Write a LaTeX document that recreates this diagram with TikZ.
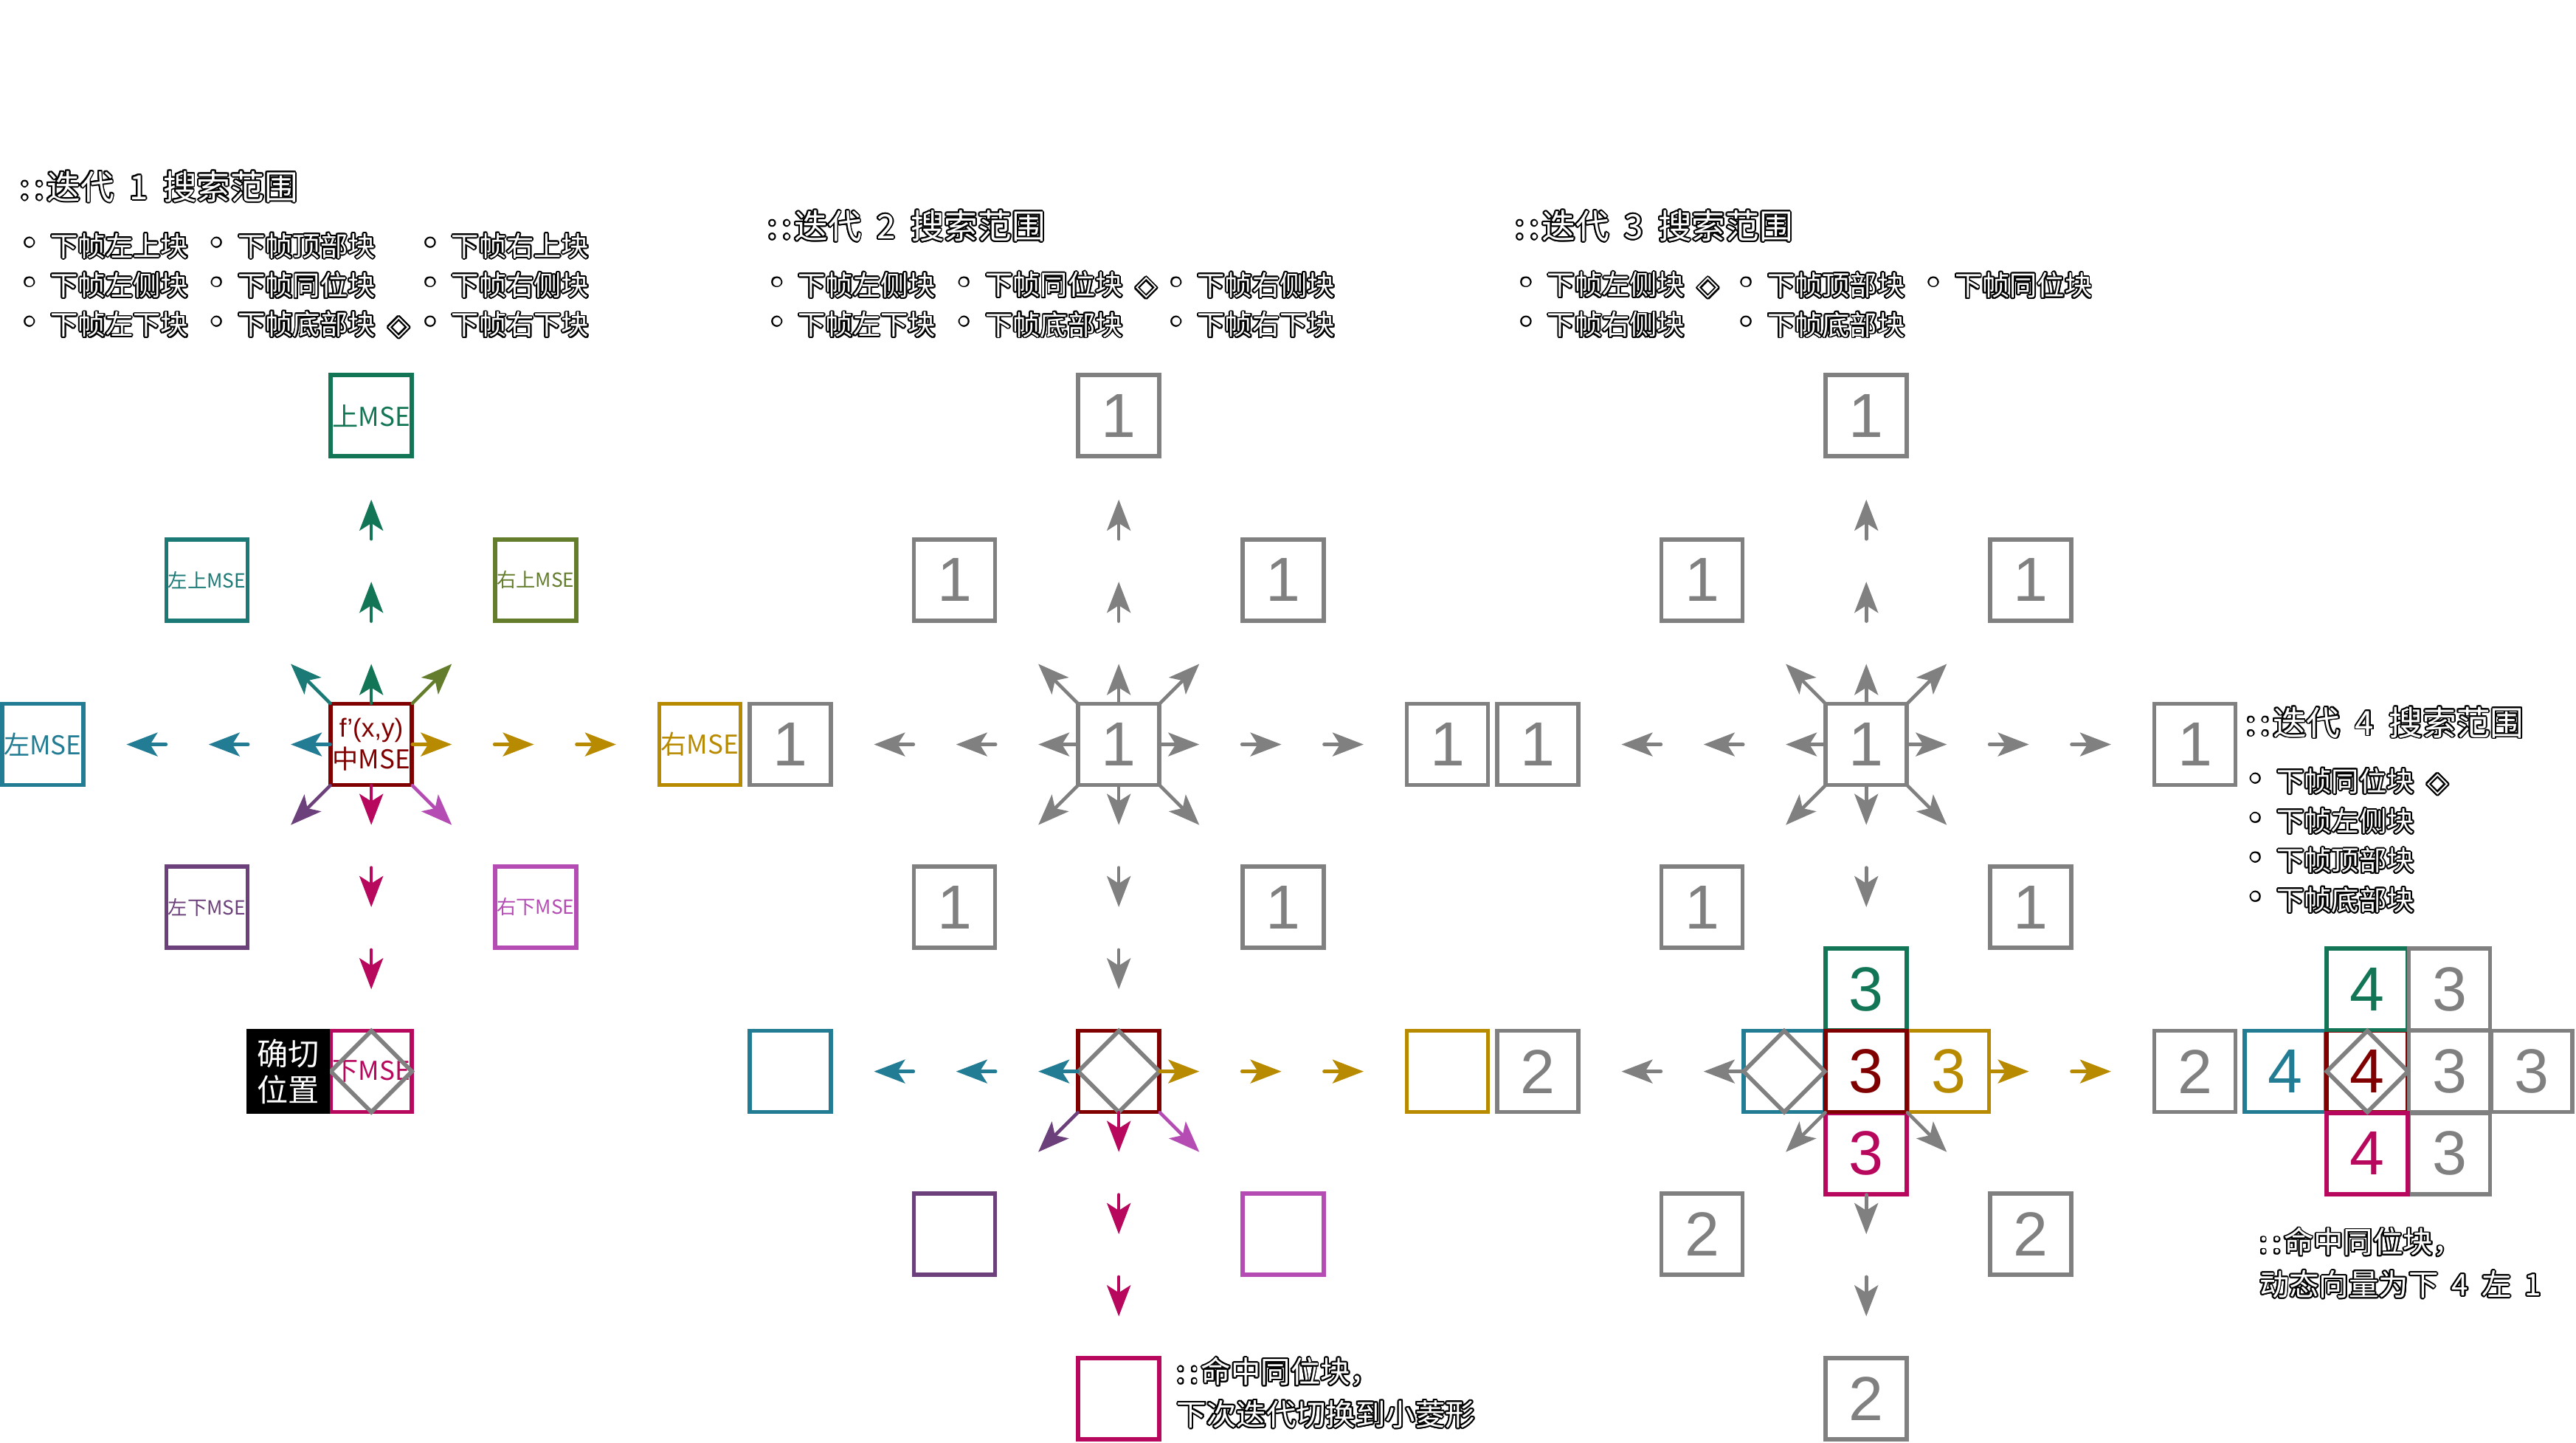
\documentclass[tikz,border=0pt]{standalone}
\usepackage{fontspec}
\setmainfont{Noto Sans CJK SC}[WordSpace=2]
\newfontfamily\numfont{Liberation Sans}
\newfontfamily\symfont{DejaVu Sans}
\usepackage[copies]{contour}
\contourlength{0.55pt}
\usetikzlibrary{arrows.meta,calc}

\definecolor{cGray}{RGB}{128,128,128}
\definecolor{cUp}{RGB}{18,117,86}
\definecolor{cUL}{RGB}{27,122,117}
\definecolor{cUR}{RGB}{99,125,44}
\definecolor{cL}{RGB}{33,124,148}
\definecolor{cR}{RGB}{184,138,0}
\definecolor{cM}{RGB}{128,0,0}
\definecolor{cD}{RGB}{183,8,94}
\definecolor{cDL}{RGB}{108,64,122}
\definecolor{cDR}{RGB}{181,76,180}

% outlined text
\newcommand{\olt}[1]{\textcolor{white}{\contour{black}{#1}}}
% grey rhombus inside a cell
\newcommand{\mkdiamond}[1]{\draw[cGray, line width=1.6pt] (#1.north) -- (#1.east) -- (#1.south) -- (#1.west) -- cycle;}

\tikzset{
  cell/.style={draw=cGray, text=cGray, line width=1.6pt, minimum size=1.1cm, inner sep=0pt, outer sep=0pt, font=\numfont\fontsize{24}{24}\selectfont},
  mse/.style={font=\fontsize{10}{12}\selectfont},
  smse/.style={font=\fontsize{7.5}{9}\selectfont},
  arw/.style={line width=1.3pt, line cap=round, -{Stealth[length=4.2mm, width=3.2mm, inset=1mm]}},
  ttl/.style={anchor=west, inner sep=0pt, font=\fontsize{13}{15}\selectfont},
  itm/.style={anchor=west, inner sep=0pt, font=\fontsize{10.6}{12}\selectfont},
  note/.style={anchor=west, align=left, inner sep=0pt, font=\fontsize{11.5}{16.4}\selectfont},
}

\begin{document}
\begin{tikzpicture}[x=0.022265cm, y=-0.022265cm]
\path[use as bounding box, fill=white] (0,0) rectangle (1568,878);

% titles and lists
\node[ttl] (t1) at (12,114) {\olt{:\kern2pt:\kern1pt迭代 1 搜索范围}};
\node[ttl] (t2) at (467,138) {\olt{:\kern2pt:\kern1pt迭代 2 搜索范围}};
\node[ttl] (t3) at (922,138) {\olt{:\kern2pt:\kern1pt迭代 3 搜索范围}};
\node[ttl] (t4) at (1367,440) {\olt{:\kern2pt:\kern1pt迭代 4 搜索范围}};
\foreach \x/\y/\t in {18/150/下帧左上块, 132/150/下帧顶部块, 262/150/下帧右上块,
    18/174/下帧左侧块, 132/174/下帧同位块, 262/174/下帧右侧块,
    18/198/下帧左下块, 132/198/下帧底部块\hspace{5pt}{\symfont ◇}, 262/198/下帧右下块,
    473/174/下帧左侧块, 587/174/下帧同位块\hspace{5pt}{\symfont ◇}, 716/174/下帧右侧块,
    473/198/下帧左下块, 587/198/下帧底部块, 716/198/下帧右下块,
    929/174/下帧左侧块\hspace{5pt}{\symfont ◇}, 1063/174/下帧顶部块, 1177/174/下帧同位块,
    929/198/下帧右侧块, 1063/198/下帧底部块,
    1373/476/下帧同位块\hspace{5pt}{\symfont ◇}, 1373/500/下帧左侧块,
    1373/524/下帧顶部块, 1373/548/下帧底部块}{
  \node[itm, anchor=center] (b\x-\y) at (\x,\y) {\olt{\symfont •}};
  \node[itm] (i\x-\y) at (\x+12.5,\y) {\olt{\t}};
}

% iteration 1
\node[cell, draw=cUp, text=cUp, mse] (u1) at (226,253) {上MSE};
\node[cell, draw=cUL, text=cUL, smse] (ul1) at (126,353) {左上MSE};
\node[cell, draw=cUR, text=cUR, smse] (ur1) at (326,353) {右上MSE};
\node[cell, draw=cL, text=cL, mse] (l1) at (26,453) {左MSE};
\node[cell, draw=cM, text=cM, mse, align=center] (m1) at (226,453) {{\numfont f’(x,y)}\\中MSE};
\node[cell, draw=cR, text=cR, mse] (r1) at (426,453) {右MSE};
\node[cell, draw=cDL, text=cDL, smse] (dl1) at (126,552) {左下MSE};
\node[cell, draw=cDR, text=cDR, smse] (dr1) at (326,552) {右下MSE};
\node[cell, draw=cD, text=cD, mse] (d1) at (226,652) {下MSE};
\mkdiamond{d1}
\node[fill=black, text=white, minimum width=1.13cm, minimum height=1.15cm, inner sep=0pt, anchor=east, align=center, font=\fontsize{12}{14}\selectfont] (pos1) at (d1.west) {确切\\位置};
\foreach \dx/\dy/\c in {0/-1/cUp, -1/0/cL, 1/0/cR, 0/1/cD}
  \foreach \k in {0,1,2}
    \draw[arw, \c] ($(m1)+({\dx*(25+50*\k)},{\dy*(25+50*\k)})$) -- ++({24*\dx},{24*\dy});
\foreach \dx/\dy/\c in {-1/-1/cUL, 1/-1/cUR, -1/1/cDL, 1/1/cDR}
  \draw[arw, \c] ($(m1)+({25*\dx},{25*\dy})$) -- ++({24*\dx},{24*\dy});

% iteration 2
\foreach \p/\x/\y in {u2/681/253, ul2/581/353, ur2/781/353, a1/481/453, m2/681/453, r2/881/453, dl2/581/552, dr2/781/552}
  \node[cell] (\p) at (\x,\y) {1};
\foreach \dx/\dy in {0/-1, -1/0, 1/0, 0/1}
  \foreach \k in {0,1,2}
    \draw[arw, cGray] ($(m2)+({\dx*(25+50*\k)},{\dy*(25+50*\k)})$) -- ++({24*\dx},{24*\dy});
\foreach \dx/\dy in {-1/-1, 1/-1, -1/1, 1/1}
  \draw[arw, cGray] ($(m2)+({25*\dx},{25*\dy})$) -- ++({24*\dx},{24*\dy});

\node[cell, draw=cL] (l2b) at (481,652) {};
\node[cell, draw=cM] (m2b) at (681,652) {};
\node[cell, draw=cR] (r2b) at (881,652) {};
\node[cell] (g2b) at (936,652) {2};
\node[cell, draw=cDL] (dl2b) at (581,751) {};
\node[cell, draw=cDR] (dr2b) at (781,751) {};
\node[cell, draw=cD] (d2b) at (681,851) {};
\mkdiamond{m2b}
\foreach \dx/\dy/\c in {-1/0/cL, 1/0/cR, 0/1/cD}
  \foreach \k in {0,1,2}
    \draw[arw, \c] ($(m2b)+({\dx*(25+50*\k)},{\dy*(25+50*\k)})$) -- ++({24*\dx},{24*\dy});
\foreach \dx/\dy/\c in {-1/1/cDL, 1/1/cDR}
  \draw[arw, \c] ($(m2b)+({25*\dx},{25*\dy})$) -- ++({24*\dx},{24*\dy});
\node[note] (n2) at (716,848) {\olt{:\kern2pt:\kern1pt命中同位块，}\\\olt{下次迭代切换到小菱形}};

% iteration 3
\foreach \p/\x/\y in {u3/1136/253, ul3/1036/353, ur3/1236/353, l3/936/453, m3/1136/453, r3/1336/453, dl3/1036/552, dr3/1236/552}
  \node[cell] (\p) at (\x,\y) {1};
\foreach \dx/\dy/\n in {0/-1/2, -1/0/2, 1/0/2, 0/1/1}
  \foreach \k in {0,...,\n}
    \draw[arw, cGray] ($(m3)+({\dx*(25+50*\k)},{\dy*(25+50*\k)})$) -- ++({24*\dx},{24*\dy});
\foreach \dx/\dy in {-1/-1, 1/-1, -1/1, 1/1}
  \draw[arw, cGray] ($(m3)+({25*\dx},{25*\dy})$) -- ++({24*\dx},{24*\dy});

\foreach \p/\x/\y in {g3r/1336/652, g3dl/1036/751, g3dr/1236/751, g3d/1136/851}
  \node[cell] (\p) at (\x,\y) {2};
\node[cell, draw=cL] (l3b) at (1086,652) {};
\node[cell, draw=cUp, text=cUp] (u3b) at (1136,602) {3};
\node[cell, draw=cR, text=cR] (r3b) at (1186,652) {3};
\node[cell, draw=cD, text=cD] (d3b) at (1136,702) {3};
\node[cell, draw=cM, text=cM] (m3b) at (1136,652) {3};
\mkdiamond{l3b}
\foreach \k in {0,1} {
  \draw[arw, cGray] ($(l3b)+({-25-50*\k},0)$) -- ++(-24,0);
  \draw[arw, cR] ($(r3b)+({25+50*\k},0)$) -- ++(24,0);
  \draw[arw, cGray] ($(d3b)+(0,{25+50*\k})$) -- ++(0,24);
}
\foreach \dx in {-1,1}
  \draw[arw, cGray] ($(m3b)+({25*\dx},25)$) -- ++({24*\dx},24);

% iteration 4
\node[cell, draw=cL, text=cL] (l4) at (1391,652) {4};
\node[cell, draw=cM, text=cM] (m4) at (1441,652) {4};
\node[cell, draw=cUp, text=cUp] (u4) at (1441,602) {4};
\foreach \p/\x/\y in {g4a/1491/602, g4b/1491/652, g4c/1541/652, g4d/1491/702}
  \node[cell] (\p) at (\x,\y) {3};
\node[cell, draw=cD, text=cD] (d4) at (1441,702) {4};
\mkdiamond{m4}
\node[note] (n4) at (1375,769) {\olt{:\kern2pt:\kern1pt命中同位块，}\\\olt{动态向量为下 4 左 1}};
\end{tikzpicture}
\end{document}
